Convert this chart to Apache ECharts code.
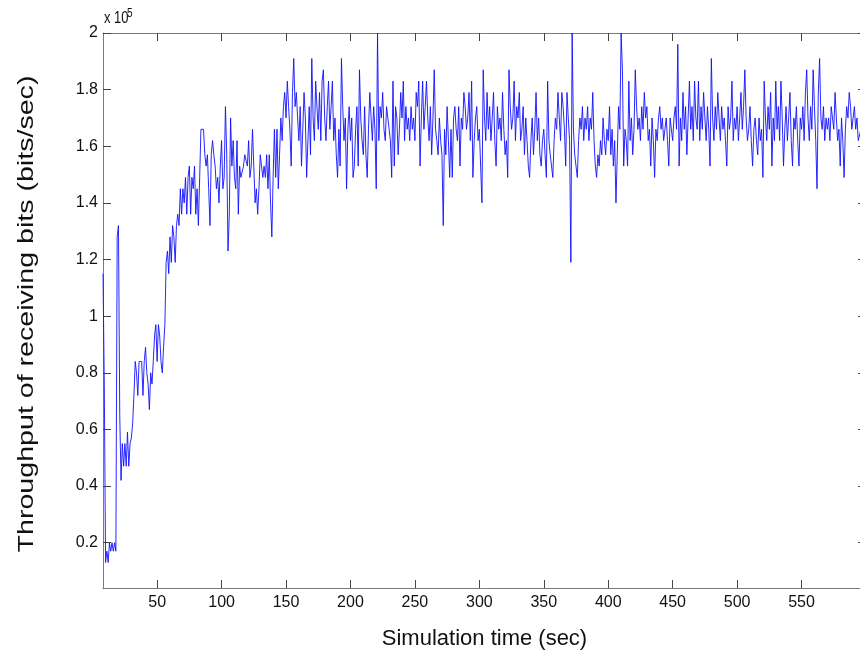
<!DOCTYPE html>
<html>
<head>
<meta charset="utf-8">
<title>Throughput of receiving bits</title>
<script src="https://cdn.jsdelivr.net/npm/echarts@6/dist/echarts.min.js"></script>
<style>
  html, body { margin: 0; padding: 0; background: #ffffff; }
  #chart { width: 860px; height: 653px; }
</style>
</head>
<body>
<div id="chart"></div>
<script>
// Simulation starts sampling at t = 8 s, one sample per second.
const startSec = 8;

// Throughput samples, in units of 10^5 bits/sec (see the "x 10^5" multiplier).
const rampUp = [
  1.15,0.76,0.13,0.17,0.13,0.20,0.17,0.20,0.17,0.20,
  0.17,1.28,1.32,0.65,0.42,0.55,0.47,0.55,0.47,0.59,
  0.47,0.55,0.57,0.62,0.72,0.84,0.80,0.72,0.84,0.84,
  0.84,0.72,0.84,0.89,0.80,0.76,0.67,0.80,0.76,0.84,
  0.93,0.97,0.84,0.97,0.93,0.84,0.80,0.89,0.97,1.19,
  1.23,1.15,1.28,1.19,1.32,1.28,1.19,1.32,1.36,1.32,
  1.45,1.36,1.45,1.40,1.49,1.36,1.49,1.53,1.36,1.49,
  1.45,1.53,1.36,1.45,1.32,1.49,1.66,1.66,1.66,1.57,
  1.53,1.57,1.45,1.32,1.57,1.62,1.57,1.53,1.45,1.49,
  1.40,1.53,1.62,1.45,1.49,1.74,1.57,1.23,1.36,1.70,
  1.53,1.62,1.49,1.45,1.62,1.36,1.53,1.49,1.49,1.53,
  1.57,1.57,1.53,1.62,1.49,1.53,1.66,1.53,1.40,1.45,
  1.36,1.45,1.57,1.57,1.49,1.53,1.49,1.57,1.45,1.57,
  1.40,1.28,1.49,1.66,1.49,1.66,1.45,1.57,1.70,1.62,
  1.74,1.79
];

// From t = 150 s to t = 600 s the link is saturated.
const steadyState = [
  1.70,1.83,1.74,1.66,1.53,1.79,1.91,1.74,1.79,1.70,
  1.62,1.74,1.53,1.66,1.79,1.70,1.49,1.62,1.74,1.57,
  1.91,1.70,1.62,1.83,1.74,1.66,1.79,1.62,1.83,1.87,
  1.70,1.62,1.74,1.83,1.66,1.74,1.83,1.62,1.70,1.57,
  1.49,1.66,1.53,1.91,1.74,1.62,1.70,1.45,1.66,1.74,
  1.62,1.70,1.49,1.53,1.66,1.74,1.53,1.87,1.70,1.62,
  1.57,1.74,1.57,1.49,1.66,1.79,1.70,1.62,1.74,1.66,
  1.45,2.00,1.62,1.74,1.70,1.79,1.66,1.62,1.74,1.70,
  1.66,1.62,1.49,1.83,1.53,1.74,1.70,1.57,1.66,1.79,
  1.70,1.83,1.62,1.74,1.66,1.70,1.62,1.74,1.66,1.70,
  1.62,1.79,1.74,1.83,1.53,1.70,1.83,1.66,1.74,1.83,
  1.70,1.62,1.74,1.57,1.70,1.87,1.66,1.62,1.57,1.70,
  1.62,1.57,1.32,1.66,1.57,1.74,1.62,1.49,1.66,1.49,
  1.70,1.74,1.66,1.62,1.74,1.53,1.70,1.66,1.79,1.74,
  1.66,1.70,1.79,1.62,1.83,1.49,1.62,1.70,1.74,1.62,
  1.66,1.53,1.40,1.87,1.70,1.62,1.79,1.66,1.74,1.62,
  1.70,1.79,1.62,1.53,1.74,1.66,1.70,1.62,1.79,1.66,
  1.57,1.62,1.49,1.87,1.74,1.66,1.70,1.83,1.62,1.74,
  1.70,1.79,1.62,1.66,1.74,1.57,1.70,1.62,1.53,1.49,
  1.62,1.70,1.57,1.66,1.79,1.62,1.70,1.57,1.53,1.62,
  1.66,1.57,1.49,1.83,1.62,1.57,1.53,1.49,1.62,1.70,
  1.66,1.79,1.70,1.62,1.79,1.74,1.66,1.53,1.79,1.70,
  1.62,1.19,2.00,1.66,1.57,1.53,1.49,1.62,1.70,1.66,
  1.74,1.62,1.70,1.66,1.74,1.62,1.70,1.66,1.79,1.62,
  1.53,1.49,1.57,1.53,1.62,1.57,1.70,1.62,1.57,1.66,
  1.62,1.74,1.57,1.66,1.53,1.62,1.40,1.57,1.74,1.66,
  2.00,1.87,1.53,1.66,1.62,1.53,1.83,1.62,1.70,1.57,
  1.66,1.87,1.74,1.66,1.70,1.62,1.74,1.66,1.79,1.70,
  1.74,1.62,1.66,1.53,1.70,1.62,1.49,1.66,1.62,1.70,
  1.74,1.66,1.70,1.62,1.66,1.70,1.62,1.53,1.70,1.66,
  1.62,1.70,1.74,1.66,1.96,1.53,1.70,1.62,1.79,1.66,
  1.74,1.57,1.70,1.83,1.66,1.74,1.62,1.83,1.70,1.66,
  1.83,1.62,1.74,1.66,1.79,1.70,1.62,1.74,1.66,1.53,
  1.91,1.70,1.62,1.74,1.66,1.79,1.70,1.62,1.74,1.66,
  1.70,1.62,1.53,1.74,1.66,1.70,1.83,1.62,1.70,1.66,
  1.74,1.62,1.70,1.79,1.66,1.74,1.87,1.70,1.62,1.66,
  1.74,1.62,1.53,1.66,1.70,1.62,1.57,1.70,1.62,1.66,
  1.49,1.83,1.70,1.62,1.74,1.66,1.79,1.53,1.70,1.62,
  1.83,1.66,1.74,1.62,1.83,1.70,1.53,1.66,1.74,1.62,
  1.70,1.79,1.62,1.53,1.70,1.66,1.74,1.62,1.53,1.70,
  1.66,1.74,1.62,1.79,1.87,1.70,1.62,1.74,1.66,1.87,
  1.74,1.62,1.45,1.79,1.91,1.70,1.66,1.74,1.62,1.70,
  1.66,1.70,1.62,1.74,1.70,1.66,1.79,1.70,1.62,1.66,
  1.53,1.70,1.62,1.49,1.66,1.74,1.70,1.79,1.74,1.66,
  1.70,1.74,1.66,1.70,1.62,1.62,1.66,1.70,1.62,1.66,
  1.70
];

// Tick positions
const xTicks = [50, 100, 150, 200, 250, 300, 350, 400, 450, 500, 550];
const yTicks = [0.2, 0.4, 0.6, 0.8, 1.0, 1.2, 1.4, 1.6, 1.8, 2.0];

const throughput = rampUp.concat(steadyState);
const points = throughput.map((v, i) => [startSec + i, v]);

const FONT = '"Liberation Sans", Arial, Helvetica, sans-serif';
const AXIS_GRAY = '#7a7a7a';

const fmtY = v => String(Math.round(v * 10) / 10);

const chart = echarts.init(document.getElementById('chart'), null, { renderer: 'canvas' });

const boxAxis = {
  axisLine: { show: true, onZero: false, lineStyle: { color: AXIS_GRAY, width: 1 } },
  axisTick: { show: true, inside: true, length: 8, lineStyle: { color: '#444', width: 1 } },
  splitLine: { show: false }
};

chart.setOption({
  animation: false,
  backgroundColor: '#ffffff',
  // The axes box runs a little past the right edge of the canvas.
  grid: { left: 103, top: 33, width: 763, height: 555, outerBoundsMode: 'none', containLabel: false },
  xAxis: [
    Object.assign({}, boxAxis, {
      type: 'value', position: 'bottom', min: 8, max: 600,
      axisTick: Object.assign({}, boxAxis.axisTick, { customValues: xTicks }),
      axisLabel: { customValues: xTicks, margin: 7, color: '#111', fontSize: 16, fontFamily: FONT },
      name: 'Simulation time (sec)', nameLocation: 'middle', nameGap: 40,
      nameTextStyle: { fontSize: 22, fontFamily: FONT, color: '#111' }
    }),
    Object.assign({}, boxAxis, {
      type: 'value', position: 'top', min: 8, max: 600,
      axisTick: Object.assign({}, boxAxis.axisTick, { customValues: xTicks }),
      axisLabel: { show: false }
    })
  ],
  yAxis: [
    Object.assign({}, boxAxis, {
      type: 'value', position: 'left', min: 0.04, max: 2,
      axisTick: Object.assign({}, boxAxis.axisTick, { customValues: yTicks }),
      axisLabel: { customValues: yTicks, formatter: fmtY, margin: 5, color: '#111', fontSize: 16, fontFamily: FONT }
    }),
    Object.assign({}, boxAxis, {
      type: 'value', position: 'right', min: 0.04, max: 2,
      axisTick: Object.assign({}, boxAxis.axisTick, { customValues: yTicks }),
      axisLabel: { show: false }
    })
  ],
  graphic: [
    // Exponent of the y axis values
    { type: 'text', x: 104, y: 27, scaleY: 1.2,
      style: { text: 'x 10', font: '13px ' + FONT, fill: '#111', verticalAlign: 'bottom' } },
    { type: 'text', x: 127, y: 20, scaleY: 1.2,
      style: { text: '5', font: '10px ' + FONT, fill: '#111', verticalAlign: 'bottom' } },
    // Y axis title, reading bottom to top
    {
      type: 'text', x: 27, y: 314, rotation: Math.PI / 2, scaleX: 1.3,
      style: {
        text: 'Throughput of receiving bits (bits/sec)',
        font: '22px ' + FONT, fill: '#111', align: 'center', verticalAlign: 'middle'
      }
    }
  ],
  series: [{
    type: 'line',
    xAxisIndex: 0, yAxisIndex: 0,
    data: points,
    showSymbol: false,
    symbol: 'none',
    sampling: null,
    lineStyle: { color: '#1010ff', width: 0.9 },
    clip: true
  }]
});
</script>
</body>
</html>
